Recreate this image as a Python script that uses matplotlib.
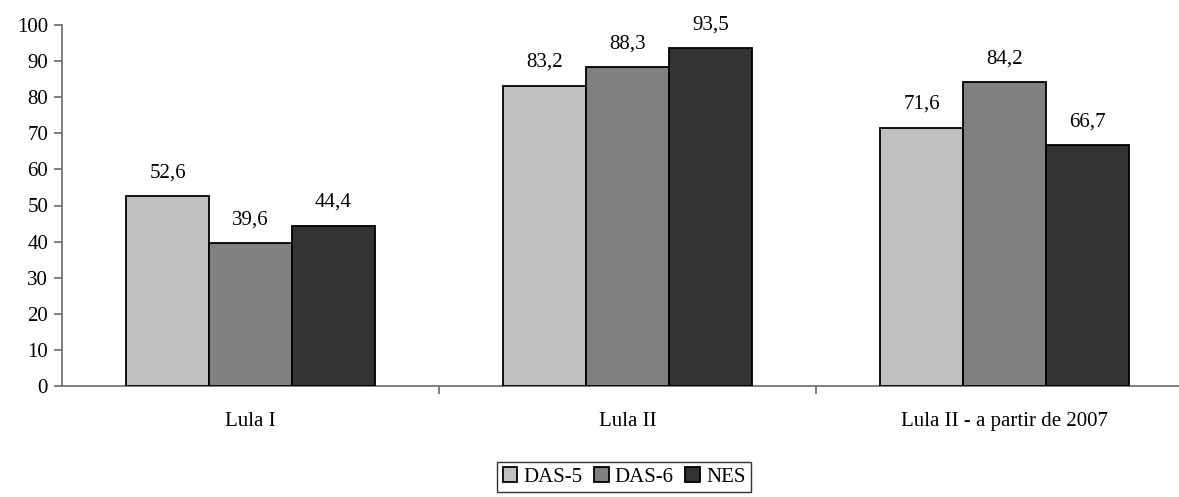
import matplotlib
matplotlib.use("Agg")
import matplotlib.pyplot as plt
import numpy as np

categories = ["Lula I", "Lula II", "Lula II - a partir de 2007"]
series = ["DAS-5", "DAS-6", "NES"]
das5 = [52.6, 83.2, 71.6]
das6 = [39.6, 88.3, 84.2]
nes = [44.4, 93.5, 66.7]
colors = ["#c0c0c0", "#808080", "#333333"]

plt.rcParams["font.family"] = ["Liberation Serif", "DejaVu Serif"]
plt.rcParams["font.size"] = 15

W, H = 1179, 497
fig = plt.figure(figsize=(W / 100, H / 100), dpi=100)
# axes run past the right edge of the figure, so the last category gets clipped
left, right, bottom, top = 62, 1193, 386, 25
ax = fig.add_axes([left / W, 1 - bottom / H, (right - left) / W, (bottom - top) / H])

x = np.arange(len(categories))
width = 0.22
axis_grey = "#6a6a6a"
for i, (name, vals) in enumerate(zip(series, [das5, das6, nes])):
    bars = ax.bar(x + (i - 1) * width, vals, width, color=colors[i], edgecolor="black",
                  linewidth=1.3, label=name, zorder=3)
    for b, v in zip(bars, vals):
        ax.annotate(f"{v:.1f}".replace(".", ","), (b.get_x() + b.get_width() / 2, v),
                    xytext=(0, 10), textcoords="offset points", ha="center", va="bottom")

ax.set_xlim(-0.5, len(categories) - 0.5)
ax.set_ylim(0, 100)
ax.set_yticks(range(0, 101, 10))
ax.set_xticks(x)
ax.set_xticklabels(categories)
ax.set_xticks([0.5, 1.5], minor=True)
ax.tick_params(axis="x", which="major", length=0, pad=19)
ax.tick_params(axis="x", which="minor", length=6, color=axis_grey, width=1.2)
ax.tick_params(axis="y", length=6, color=axis_grey, width=1.2, pad=4)

for s in ["top", "right"]:
    ax.spines[s].set_visible(False)
for s in ["left", "bottom"]:
    ax.spines[s].set_color(axis_grey)
    ax.spines[s].set_linewidth(1.2)

leg = fig.legend(loc="upper center", bbox_to_anchor=(624 / W, 1 - 462 / H), ncol=3,
                 frameon=True, fancybox=False, edgecolor="black", borderpad=0.25,
                 borderaxespad=0, handlelength=0.7, handleheight=0.7,
                 handletextpad=0.3, columnspacing=0.55)
leg.get_frame().set_linewidth(1.0)

fig.savefig("out.png", dpi=100)
